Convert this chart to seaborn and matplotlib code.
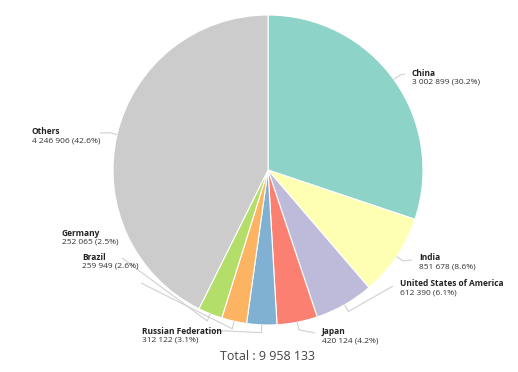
import numpy as np
import matplotlib
matplotlib.use("Agg")
import matplotlib.pyplot as plt
import seaborn as sns

sns.set_theme(style="white")
plt.rcParams['font.family'] = ['Open Sans', 'DejaVu Sans']

# -- data -- #
countries = ["China", "India", "United States of America", "Japan",
             "Russian Federation", "Brazil", "Germany", "Others"]
values = [3002899, 851678, 612390, 420124, 312122, 259949, 252065, 4246906]
colors = ["#8dd3c7", "#ffffb3", "#bebada", "#fb8072",
          "#80b1d3", "#fdb462", "#b3de69", "#cccccc"]

# -- layout (pixel coords, y from top) -- #
W, H = 518, 372
cx, cy, R = 268, 170, 155
label_xy = {
    "China": (412, 73),
    "India": (419, 258),
    "United States of America": (400, 284),
    "Japan": (322, 332),
    "Russian Federation": (142, 331),
    "Brazil": (82, 257),
    "Germany": (62, 233),
    "Others": (32, 132),
}
line_end = {
    "China": (405, 74),
    "India": (412, 260),
    "United States of America": (393, 286),
    "Japan": (315, 333),
    "Russian Federation": (205, 330),
    "Brazil": (141, 283),
    "Germany": (122, 258),
    "Others": (100, 133),
}

def fmt(v):
    return f"{v:,}".replace(",", " ")

total = sum(values)

fig = plt.figure(figsize=(W / 100, H / 100), dpi=100)
ax = fig.add_axes([0, 0, 1, 1])

wedges, _ = ax.pie(values, colors=colors, startangle=90, counterclock=False,
                   center=(cx, H - cy), radius=R,
                   wedgeprops=dict(edgecolor="white", linewidth=0.8))
ax.set_xlim(0, W)
ax.set_ylim(0, H)
ax.set_aspect("equal")
ax.axis("off")

for w, name, v in zip(wedges, countries, values):
    mid = np.deg2rad((w.theta1 + w.theta2) / 2)
    x0 = cx + R * np.cos(mid)
    y0 = (H - cy) + R * np.sin(mid)
    x1 = cx + R * 1.05 * np.cos(mid)
    y1 = (H - cy) + R * 1.05 * np.sin(mid)
    ex, ey = line_end[name]
    ax.plot([x0, x1, ex], [y0, y1, H - ey], color="#d0d0d0", lw=0.8,
            solid_capstyle="butt")
    lx, ly = label_xy[name]
    ax.text(lx, H - ly, name, fontsize=6, fontweight="bold", color="#222222",
            ha="left", va="center")
    ax.text(lx, H - ly - 9, f"{fmt(v)} ({v / total * 100:.1f}%)", fontsize=6,
            color="#333333", ha="left", va="center")

ax.text(268, H - 357, f"Total : {fmt(total)}", fontsize=9, color="#444444",
        ha="center", va="center")

fig.savefig("out.png", dpi=100)
plt.close()
